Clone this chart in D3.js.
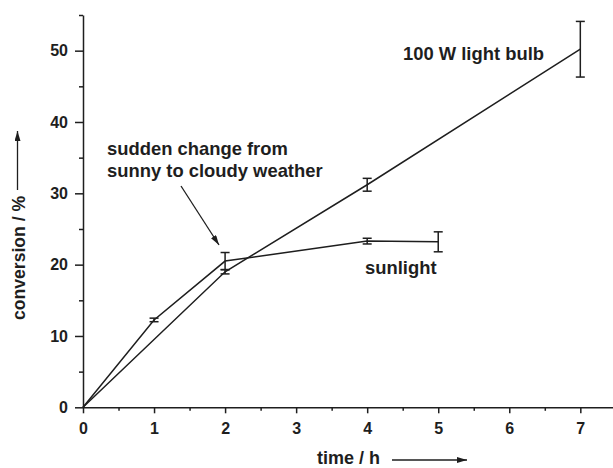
<!DOCTYPE html>
<html>
<head>
<meta charset="utf-8">
<script src="https://cdn.jsdelivr.net/npm/d3@7"></script>
<style>
  body { margin: 0; background: #fff; }
  svg text { font-family: "Liberation Sans", Arial, Helvetica, sans-serif; font-weight: bold; fill: #1e1e1e; }
  .axis text { font-size: 16px; }
</style>
</head>
<body>
<script>
// data
var sunTime = [0, 1, 2, 4, 5];
var sunConv = [0, 12.25, 20.5, 23.3, 23.2];
var sunErr  = [0, 0.25, 1.2, 0.4, 1.4];

var bulbTime = [0, 2, 4, 7];
var bulbConv = [0, 19.0, 31.2, 50.2];
var bulbErr  = [0, 0.3, 0.9, 3.9];

var xTicks = [0, 1, 2, 3, 4, 5, 6, 7];
var yTicks = [0, 10, 20, 30, 40, 50];

var W = 613, H = 468;
var x = d3.scaleLinear().domain([0, 7.46]).range([83, 613]);
var y = d3.scaleLinear().domain([0, 55]).range([407.3, 15]);
var ink = "#1e1e1e";

var svg = d3.select("body").append("svg")
  .attr("width", W).attr("height", H);

var defs = svg.append("defs");
defs.append("marker")
  .attr("id", "head")
  .attr("viewBox", "0 0 10 6")
  .attr("refX", 10).attr("refY", 3)
  .attr("markerWidth", 10).attr("markerHeight", 6)
  .attr("markerUnits", "userSpaceOnUse")
  .attr("orient", "auto")
  .append("path").attr("d", "M0,0L10,3L0,6Z").attr("fill", ink);

//axes: minor ticks first, then major with labels
var minorX = d3.range(0.5, 7.5, 1);
var minorY = d3.range(5, 60, 10);

svg.append("g")
  .attr("transform", "translate(0," + y(0) + ")")
  .call(d3.axisBottom(x).tickValues(minorX).tickSize(3.5).tickFormat(""))
  .call(function(g){ g.select(".domain").remove(); });

svg.append("g")
  .attr("transform", "translate(" + x(0) + ",0)")
  .call(d3.axisLeft(y).tickValues(minorY).tickSize(4).tickFormat(""))
  .call(function(g){ g.select(".domain").remove(); });

svg.append("g")
  .attr("class", "axis")
  .attr("transform", "translate(0," + y(0) + ")")
  .call(d3.axisBottom(x).tickValues(xTicks).tickSize(6).tickPadding(9).tickSizeOuter(0))
  .attr("font-size", null).attr("font-family", null);

svg.append("g")
  .attr("class", "axis")
  .attr("transform", "translate(" + x(0) + ",0)")
  .call(d3.axisLeft(y).tickValues(yTicks).tickSize(8).tickPadding(7).tickSizeOuter(0))
  .attr("font-size", null).attr("font-family", null);

svg.selectAll(".domain, .tick line").attr("stroke", ink).attr("stroke-width", 1.5);
svg.selectAll(".tick text").attr("fill", ink);

//series lines
var line = d3.line()
  .x(function(d){ return x(d.t); })
  .y(function(d){ return y(d.c); });

var sun = sunTime.map(function(t, i){ return {t: t, c: sunConv[i], e: sunErr[i]}; });
var bulb = bulbTime.map(function(t, i){ return {t: t, c: bulbConv[i], e: bulbErr[i]}; });

[sun, bulb].forEach(function(series){
  svg.append("path")
    .datum(series)
    .attr("fill", "none")
    .attr("stroke", ink)
    .attr("stroke-width", 1.5)
    .attr("d", line);

  //error bars
  var eb = svg.append("g")
    .selectAll("g")
    .data(series.filter(function(d){ return d.e > 0; }))
    .enter().append("g")
    .attr("stroke", ink)
    .attr("stroke-width", 1.5);
  eb.append("line")
    .attr("x1", function(d){ return x(d.t); })
    .attr("x2", function(d){ return x(d.t); })
    .attr("y1", function(d){ return y(d.c + d.e); })
    .attr("y2", function(d){ return y(d.c - d.e); });
  eb.append("line")
    .attr("x1", function(d){ return x(d.t) - 4.5; })
    .attr("x2", function(d){ return x(d.t) + 4.5; })
    .attr("y1", function(d){ return y(d.c + d.e); })
    .attr("y2", function(d){ return y(d.c + d.e); });
  eb.append("line")
    .attr("x1", function(d){ return x(d.t) - 4.5; })
    .attr("x2", function(d){ return x(d.t) + 4.5; })
    .attr("y1", function(d){ return y(d.c - d.e); })
    .attr("y2", function(d){ return y(d.c - d.e); });
});

//annotations
svg.append("text")
  .attr("x", 403).attr("y", 60)
  .style("font-size", "18.4px")
  .text("100 W light bulb");

svg.append("text")
  .attr("x", 365).attr("y", 274)
  .style("font-size", "18.4px")
  .text("sunlight");

var note = svg.append("text")
  .attr("x", 107)
  .style("font-size", "18.4px");
note.append("tspan").attr("x", 107).attr("y", 155).text("sudden change from");
note.append("tspan").attr("x", 107).attr("y", 177).text("sunny to cloudy weather");

svg.append("line")
  .attr("x1", 181).attr("y1", 186)
  .attr("x2", 219).attr("y2", 245)
  .attr("stroke", ink).attr("stroke-width", 1.3)
  .attr("marker-end", "url(#head)");

//axis titles with arrows
svg.append("text")
  .attr("x", 317).attr("y", 464)
  .style("font-size", "18px")
  .text("time / h");
svg.append("line")
  .attr("x1", 392).attr("y1", 460)
  .attr("x2", 467).attr("y2", 460)
  .attr("stroke", ink).attr("stroke-width", 1.3)
  .attr("marker-end", "url(#head)");

svg.append("text")
  .attr("transform", "translate(25,320) rotate(-90)")
  .style("font-size", "17.6px")
  .text("conversion / %");
svg.append("line")
  .attr("x1", 17.5).attr("y1", 190)
  .attr("x2", 17.5).attr("y2", 131)
  .attr("stroke", ink).attr("stroke-width", 1.3)
  .attr("marker-end", "url(#head)");
</script>
</body>
</html>
